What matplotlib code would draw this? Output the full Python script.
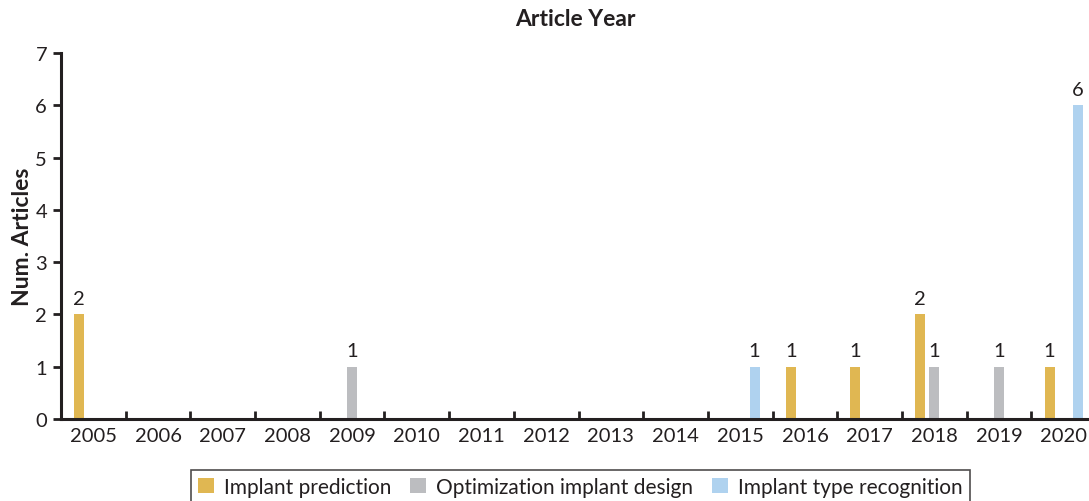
import matplotlib.pyplot as plt
import numpy as np
import matplotlib as mpl
from matplotlib.ticker import FixedLocator, NullFormatter

mpl.rcParams['font.family'] = ['Lato', 'DejaVu Sans']
mpl.rcParams['font.size'] = 14

# data
years = ['2005', '2006', '2007', '2008', '2009', '2010', '2011', '2012',
         '2013', '2014', '2015', '2016', '2017', '2018', '2019', '2020']
prediction = [2, 0, 0, 0, 0, 0, 0, 0, 0, 0, 0, 1, 1, 2, 0, 1]
optimization = [0, 0, 0, 0, 1, 0, 0, 0, 0, 0, 0, 0, 0, 1, 1, 0]
recognition = [0, 0, 0, 0, 0, 0, 0, 0, 0, 0, 1, 0, 0, 0, 0, 6]
legend_labels = ['Implant prediction', 'Optimization implant design', 'Implant type recognition']
colors = ['#E0B752', '#BCBDC0', '#AFD2EF']

dark = '#231F20'

fig = plt.figure(figsize=(10.89, 5.02), dpi=100)
ax = fig.add_axes([0.056, 0.1633, 0.944, 0.7291])

x = np.arange(len(years))
width = 0.155
offsets = [-0.22, 0.0, 0.22]
for series, off, c, lab in zip([prediction, optimization, recognition], offsets, colors, legend_labels):
    bars = ax.bar(x + off, series, width, color=c, label=lab)
    for b, v in zip(bars, series):
        if v > 0:
            ax.text(b.get_x() + b.get_width() / 2, v + 0.14, str(v),
                    ha='center', va='bottom', fontsize=14.5, color=dark)

ax.set_xlim(-0.5, 15.39)
ax.set_ylim(0, 7)

# group boundaries as major ticks, year labels on minor ticks
ax.xaxis.set_major_locator(FixedLocator(np.arange(-0.5, 16, 1)))
ax.xaxis.set_major_formatter(NullFormatter())
ax.set_xticks(x, minor=True)
ax.set_xticklabels(years, minor=True)
ax.tick_params(axis='x', which='major', direction='in', length=6, width=2, color=dark)
ax.tick_params(axis='x', which='minor', length=0, pad=6, labelsize=14.5, labelcolor=dark)
ax.set_yticks(range(0, 8))
ax.tick_params(axis='y', direction='out', length=6, width=2, color=dark, labelsize=14.5, labelcolor=dark, pad=4)

for s in ['top', 'right']:
    ax.spines[s].set_visible(False)
for s in ['left', 'bottom']:
    ax.spines[s].set_linewidth(2.2)
    ax.spines[s].set_color(dark)

ax.set_ylabel('Num. Articles', fontsize=16.5, fontweight='bold', color=dark)
ax.yaxis.set_label_coords(-0.027, 0.5)
ax.set_title('Article Year', fontsize=16.5, fontweight='bold', color=dark, pad=20)

leg = fig.legend(loc='center', bbox_to_anchor=(0.533, 0.028), ncol=3, fontsize=15,
                 handlelength=0.75, handleheight=0.75, handletextpad=0.5, columnspacing=0.9,
                 fancybox=False, edgecolor=dark, borderpad=0.35)
leg.get_frame().set_linewidth(1.2)
for t in leg.get_texts():
    t.set_color(dark)

plt.savefig('out.png', dpi=100)
